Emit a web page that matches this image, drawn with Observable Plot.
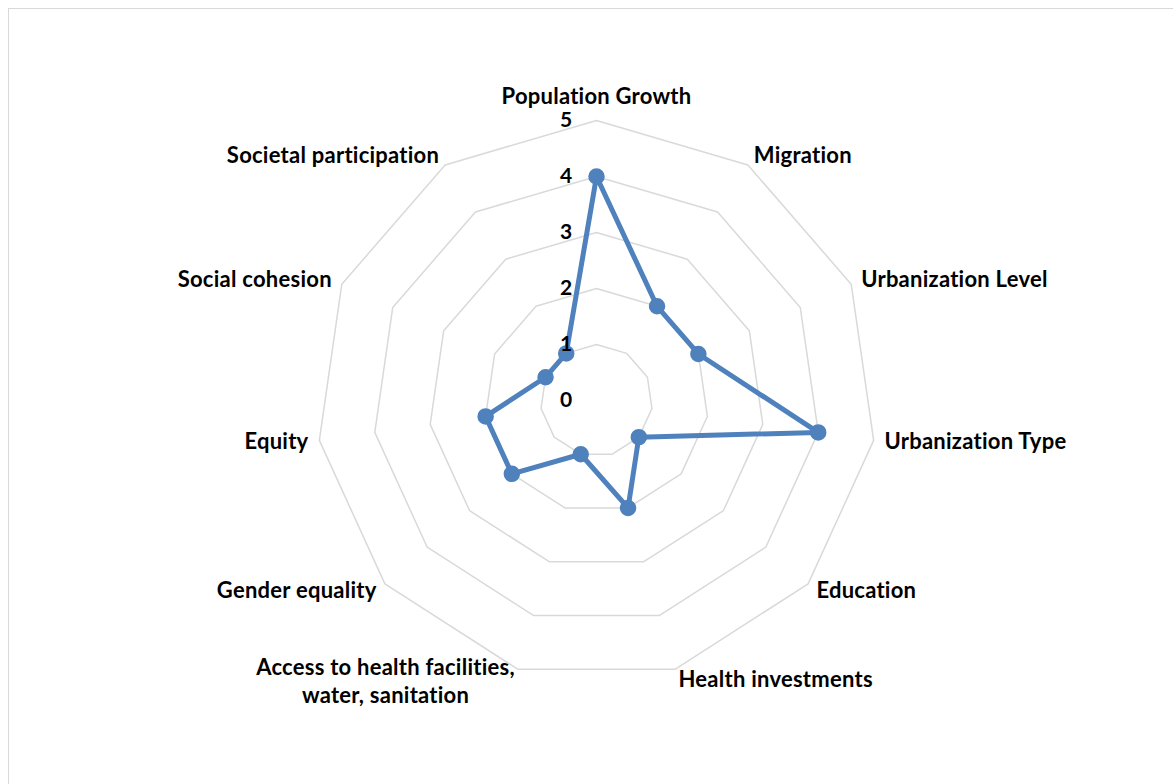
<!DOCTYPE html>
<html>
<head>
<meta charset="utf-8">
<script src="https://cdn.jsdelivr.net/npm/d3@7"></script>
<script src="https://cdn.jsdelivr.net/npm/@observablehq/plot@0.6"></script>
<style>
  html, body { margin: 0; padding: 0; background: #fff; overflow: hidden; }
  #frame { position: absolute; left: 8px; top: 8px; width: 1200px; height: 820px; border: 1.5px solid #d9d9d9; box-sizing: border-box; }
  #chart { position: absolute; left: 0; top: 0; }
  svg text { font-variant-ligatures: none; font-feature-settings: "liga" 0, "clig" 0; }
</style>
</head>
<body>
<div id="frame"></div>
<div id="chart"></div>
<script>
const categories = [
  "Population Growth", "Migration", "Urbanization Level", "Urbanization Type",
  "Education", "Health investments", "Access to health facilities,\nwater, sanitation",
  "Gender equality", "Equity", "Social cohesion", "Societal participation"
];
const values = [4, 2, 2, 4, 1, 2, 1, 2, 2, 1, 1];
const levels = [1, 2, 3, 4, 5];
const tickValues = [0, 1, 2, 3, 4, 5];
const tickLabels = ["0", "1", "2", "3", "4", "5"];

const n = categories.length;
const ang = i => (i % n) * 2 * Math.PI / n;
const px = (i, r) => r * Math.sin(ang(i));
const py = (i, r) => r * Math.cos(ang(i));

const grid = [];
for (const L of levels) for (let i = 0; i <= n; i++) grid.push({level: L, x: px(i, L), y: py(i, L)});

const series = [];
for (let i = 0; i <= n; i++) series.push({x: px(i, values[i % n]), y: py(i, values[i % n])});
const pts = values.map((v, i) => ({x: px(i, v), y: py(i, v), cat: categories[i]}));

const unit = 56;
const lr = 5 + 11 / unit;
const labels = categories.map((c, i) => ({x: px(i, lr), y: py(i, lr), text: c, i}));
const labTop = labels.filter(d => d.i === 0);
const labRight = labels.filter(d => d.i > 0 && d.i <= 5);
const labLeft = labels.filter(d => d.i >= 7);
const labAccess = labels.filter(d => d.i === 6);
const ticks = tickValues.map((v, i) => ({x: 0, y: v, text: tickLabels[i]}));

const W = 1173, H = 784, cx = 596, cy = 400;
const font = "Lato, 'Open Sans', sans-serif";
const labelStyle = {fontSize: 22, fontWeight: "bold", fill: "#000"};

const chart = Plot.plot({
  width: W, height: H,
  margin: 0,
  style: {fontFamily: font, background: "transparent", letterSpacing: "0.25px"},
  x: {domain: [-cx / unit, (W - cx) / unit], range: [0, W], axis: null},
  y: {domain: [-(H - cy) / unit, cy / unit], range: [H, 0], axis: null},
  marks: [
    Plot.line(grid, {x: "x", y: "y", z: "level", stroke: "#d9d9d9", strokeWidth: 1.5}),
    Plot.line(series, {x: "x", y: "y", stroke: "#4f81bd", strokeWidth: 5, strokeLinejoin: "round"}),
    Plot.dot(pts, {x: "x", y: "y", r: 7.5, fill: "#4f81bd", stroke: "#4f81bd"}),
    Plot.text(ticks, {x: "x", y: "y", text: "text", textAnchor: "end", dx: -24, fontSize: 21, fontWeight: "bold", fill: "#000"}),
    Plot.text(labTop, {x: "x", y: "y", text: "text", textAnchor: "middle", dy: -13, ...labelStyle}),
    Plot.text(labRight, {x: "x", y: "y", text: "text", textAnchor: "start", ...labelStyle}),
    Plot.text(labLeft, {x: "x", y: "y", text: "text", textAnchor: "end", ...labelStyle}),
    Plot.text(labAccess, {x: "x", y: "y", text: "text", textAnchor: "middle", dx: -129, lineHeight: 1.27, ...labelStyle})
  ]
});
document.getElementById("chart").appendChild(chart);
</script>
</body>
</html>
